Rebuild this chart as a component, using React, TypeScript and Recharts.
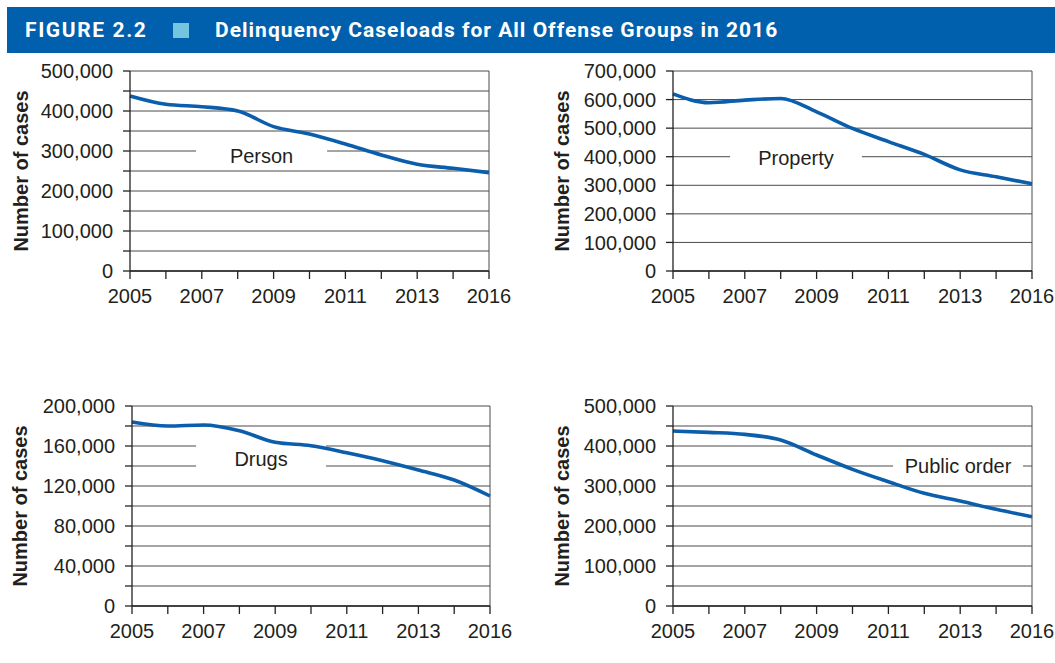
import { LineChart, Line, XAxis, YAxis, CartesianGrid, ReferenceArea, ReferenceLine } from "recharts";

// tick positions along the x axis (11 of them, only some labelled)
const xLabels = ["2005", "", "2007", "", "2009", "", "2011", "", "2013", "", "2016"];

const person = [437500, 416700, 410800, 400000, 361000, 342500, 317500, 290000, 266700, 256700, 246000];
const property = [620000, 589000, 598000, 604000, 557000, 499000, 453000, 408000, 354000, 330000, 305000];
const drugs = [184000, 180000, 181000, 175300, 163700, 160300, 153300, 145300, 136000, 126000, 110000];
const publicOrder = [437500, 434000, 429000, 415000, 377500, 341700, 310800, 281700, 262500, 241700, 223300];

const personTicks = [0, 50000, 100000, 150000, 200000, 250000, 300000, 350000, 400000, 450000, 500000];
const propertyTicks = [0, 100000, 200000, 300000, 400000, 500000, 600000, 700000];
const drugsTicks = [0, 20000, 40000, 60000, 80000, 100000, 120000, 140000, 160000, 180000, 200000];
const publicOrderTicks = [0, 50000, 100000, 150000, 200000, 250000, 300000, 350000, 400000, 450000, 500000];

const FONT = "'Liberation Sans', Arial, Helvetica, sans-serif";
const LINE_BLUE = "#0b5eab";
const INK = "#231f20";

type Box = { x1: number; x2: number; y1: number; y2: number; text: string };

type PanelProps = {
  values: number[];
  ticks: number[];
  labelStep: number;
  box: Box;
  left: number;
  top: number;
  width: number;
  axisWidth: number;
  marginRight: number;
  titleDx: number;
};

function Panel({ values, ticks, labelStep, box, left, top, width, axisWidth, marginRight, titleDx }: PanelProps) {
  const rows = xLabels.map((_, i) => ({ i, v: values[i] }));
  const xTicks = xLabels.map((_, i) => i);
  const max = ticks[ticks.length - 1];

  const YTick = (props: any) => {
    const { x, y, payload } = props;
    if (payload.value % labelStep !== 0) return <g />;
    return (
      <text x={x} y={y} dy="0.355em" textAnchor="end" fontSize={20} fill={INK} fontFamily={FONT}>
        {payload.value.toLocaleString("en-US")}
      </text>
    );
  };

  return (
    <div style={{ position: "absolute", left, top }}>
      <LineChart
        width={width}
        height={260}
        data={rows}
        margin={{ top: 11, right: marginRight, bottom: 9, left: 10 }}
        style={{ fontFamily: FONT }}
      >
        <CartesianGrid vertical={false} stroke="#4a4a4a" strokeWidth={1} />
        <XAxis
          type="number"
          dataKey="i"
          domain={[0, xLabels.length - 1]}
          ticks={xTicks}
          interval={0}
          tickFormatter={(i: number) => xLabels[i]}
          tickSize={8}
          tickMargin={10}
          height={40}
          axisLine={{ stroke: "#222", strokeWidth: 1.3 }}
          tickLine={{ stroke: "#222", strokeWidth: 1.3 }}
          tick={{ fontSize: 20, fill: INK, fontFamily: FONT }}
        />
        <YAxis
          type="number"
          domain={[0, max]}
          ticks={ticks}
          interval={0}
          width={axisWidth}
          tickSize={7}
          tickMargin={10}
          axisLine={{ stroke: "#222", strokeWidth: 1.3 }}
          tickLine={{ stroke: "#222", strokeWidth: 1.3 }}
          tick={YTick}
          label={{
            value: "Number of cases",
            angle: -90,
            position: "center",
            dx: titleDx,
            fontSize: 20,
            fontWeight: "bold",
            fill: INK,
            fontFamily: FONT,
          }}
        />
        <ReferenceLine x={xLabels.length - 1} stroke="#4a4a4a" strokeWidth={1} />
        <ReferenceArea
          x1={box.x1}
          x2={box.x2}
          y1={box.y1}
          y2={box.y2}
          fill="#ffffff"
          fillOpacity={1}
          stroke="none"
          label={{ value: box.text, position: "center", fontSize: 20, fill: INK, fontFamily: FONT }}
        />
        <Line
          type="monotone"
          dataKey="v"
          stroke={LINE_BLUE}
          strokeWidth={3.6}
          dot={false}
          activeDot={false}
          isAnimationActive={false}
        />
      </LineChart>
    </div>
  );
}

export default function App() {
  return (
    <div style={{ position: "absolute", left: 0, top: 0, width: 1055, height: 663, background: "#fff", overflow: "hidden" }}>
      <div
        style={{
          position: "absolute",
          left: 7,
          top: 7,
          width: 1048,
          height: 46,
          background: "#0060ad",
          color: "#fff",
          fontFamily: "Roboto, 'Open Sans', sans-serif",
          fontWeight: 700,
          fontSize: 21,
          lineHeight: "24px",
        }}
      >
        <span style={{ position: "absolute", left: 18, top: 11, letterSpacing: 1.6 }}>FIGURE 2.2</span>
        <span style={{ position: "absolute", left: 166, top: 16, width: 16, height: 15, background: "#74c5df" }} />
        <span style={{ position: "absolute", left: 208, top: 11, letterSpacing: 1.0 }}>
          Delinquency Caseloads for All Offense Groups in 2016
        </span>
      </div>

      <Panel
        values={person}
        ticks={personTicks}
        labelStep={100000}
        box={{ x1: 1.84, x2: 5.49, y1: 257500, y2: 320000, text: "Person" }}
        left={0}
        top={60}
        width={520}
        axisWidth={120}
        marginRight={31}
        titleDx={-49}
      />
      <Panel
        values={property}
        ticks={propertyTicks}
        labelStep={100000}
        box={{ x1: 1.59, x2: 5.26, y1: 353500, y2: 441000, text: "Property" }}
        left={540}
        top={60}
        width={515}
        axisWidth={123}
        marginRight={23}
        titleDx={-50}
      />
      <Panel
        values={drugs}
        ticks={drugsTicks}
        labelStep={40000}
        box={{ x1: 1.79, x2: 5.42, y1: 132000, y2: 162000, text: "Drugs" }}
        left={0}
        top={395}
        width={520}
        axisWidth={122}
        marginRight={30}
        titleDx={-51}
      />
      <Panel
        values={publicOrder}
        ticks={publicOrderTicks}
        labelStep={100000}
        box={{ x1: 6.13, x2: 9.75, y1: 322500, y2: 377500, text: "Public order" }}
        left={540}
        top={395}
        width={515}
        axisWidth={123}
        marginRight={23}
        titleDx={-50}
      />
    </div>
  );
}
